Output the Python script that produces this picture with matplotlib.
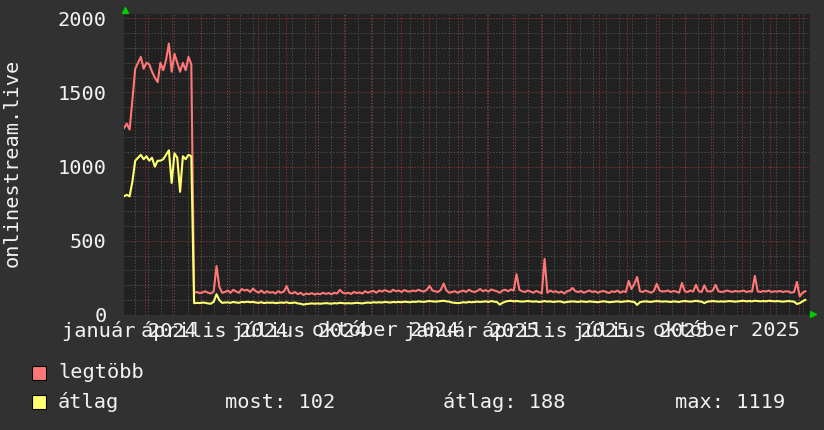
import matplotlib
matplotlib.use("Agg")
import matplotlib.dates as mdates
import matplotlib.pyplot as plt
import pandas as pd
from matplotlib.patches import Rectangle

W, H = 824, 430
DPI = 100
FONT = "DejaVu Sans Mono"
FS = 14.6

BG = "#313131"
CANVAS = "#212121"
TEXT = "#f2f2f2"
RED = "#ff7777"
YELLOW = "#ffff70"
GRID_MINOR = "#4e4e4e"
GRID_MAJOR = "#853232"
ARROW = "#00cc00"

# napi (3 naponkénti) értékek
legtobb = [
    1260, 1290, 1250, 1450, 1660, 1700, 1740, 1660, 1700, 1690,
    1640, 1600, 1570, 1700, 1650, 1720, 1830, 1640, 1760, 1700,
    1640, 1700, 1650, 1740, 1690, 150, 155, 148, 152, 160,
    150, 145, 160, 330, 190, 150, 155, 165, 150, 170,
    158, 150, 175, 165, 170, 155, 178, 160, 150, 165,
    148, 160, 150, 155, 145, 160, 150, 158, 195, 150,
    145, 155, 140, 150, 135, 145, 140, 148, 138, 145,
    140, 150, 142, 148, 140, 150, 145, 170, 150, 145,
    150, 142, 155, 148, 152, 145, 160, 150, 158, 162,
    150, 165, 158, 168, 160, 155, 170, 160, 165, 155,
    168, 160, 158, 165, 160, 170, 162, 158, 170, 196,
    165, 160, 155, 170, 212, 165, 150, 155, 160, 150,
    158, 165, 155, 170, 160, 155, 162, 175, 160, 168,
    158, 172, 165, 160, 150, 165, 170, 160, 172, 165,
    275, 170, 160, 155, 165, 158, 150, 162, 155, 145,
    378, 150, 165, 155, 160, 150, 158, 145, 160, 165,
    182, 160, 155, 162, 150, 158, 165, 155, 160, 150,
    158, 162, 155, 148, 160, 155, 165, 150, 160, 155,
    230, 175, 208, 257, 160, 155, 165, 158, 150, 162,
    210, 165, 158, 160, 165, 155, 162, 158, 150, 216,
    160, 155, 165, 158, 203, 160, 155, 200, 160, 158,
    165, 203, 160, 155, 158, 165, 160, 155, 162, 158,
    160, 165, 155, 160, 158, 264, 160, 155, 162, 158,
    165, 155, 160, 158, 162, 155, 160, 158, 150, 155,
    223, 125, 150, 160,
]
atlag = [
    800, 810, 800, 900, 1040, 1060, 1080, 1050, 1070, 1040,
    1060, 1000, 1040, 1040, 1050, 1080, 1110, 890, 1090, 1060,
    830, 1070, 1050, 1080, 1070, 80, 82, 80, 84, 82,
    78, 76, 90, 140, 100, 82, 84, 85, 82, 88,
    84, 82, 88, 86, 90, 86, 88, 84, 82, 86,
    80, 84, 82, 84, 80, 82, 84, 82, 86, 80,
    82, 84, 78, 76, 70, 74, 76, 78, 76, 78,
    76, 78, 80, 78, 76, 80, 78, 82, 80, 78,
    80, 78, 80, 82, 80, 78, 82, 84, 82, 86,
    84, 86, 84, 88, 86, 84, 88, 86, 88, 86,
    90, 88, 86, 90, 88, 92, 90, 88, 92, 94,
    92, 90, 92, 94, 96, 92, 90, 84, 82, 80,
    82, 86, 84, 88, 86, 88, 90, 88, 90, 92,
    88, 94, 90, 88, 70, 82, 90, 94, 96, 92,
    94, 92, 90, 92, 94, 92, 90, 92, 88, 90,
    94, 90, 92, 88, 90, 92, 90, 84, 88, 90,
    92, 90, 88, 92, 90, 88, 92, 90, 88, 86,
    90, 92, 90, 86, 88, 90, 92, 88, 90, 92,
    94, 90, 88, 68, 86, 90, 92, 90, 88, 92,
    94, 92, 90, 92, 90, 88, 92, 90, 88, 92,
    94, 92, 90, 92, 96, 92, 90, 80, 90, 92,
    94, 92, 90, 92, 90, 92, 94, 92, 90, 92,
    94, 96, 92, 94, 92, 96, 94, 92, 94, 92,
    96, 94, 92, 94, 92, 90, 92, 94, 92, 90,
    74, 80, 92, 102,
]
dates = pd.date_range("2024-01-10", periods=len(legtobb), freq="3D")

y_ticks = [0, 500, 1000, 1500, 2000]
x_labels = [
    "január 2024", "április 2024", "július 2024", "október 2024",
    "január 2025", "április 2025", "július 2025", "október 2025",
]
x_label_dates = [
    "2024-01-16", "2024-04-16", "2024-07-16", "2024-10-16",
    "2025-01-16", "2025-04-16", "2025-07-16", "2025-10-16",
]
legend_names = ["legtöbb", "átlag"]
legend_stats = ["most: 102", "átlag: 188", "max: 1119"]

x_start = pd.Timestamp("2024-01-10")
x_end = pd.Timestamp("2026-01-13")
y_top = 2029


def fx(x):
    return x / W


def fy(y):
    return 1 - y / H


fig = plt.figure(figsize=(W / DPI, H / DPI), dpi=DPI, facecolor=BG)
ax = fig.add_axes([fx(124), fy(315), 686 / W, 301 / H])
ax.set_facecolor(CANVAS)
for spine in ax.spines.values():
    spine.set_visible(False)

ax.set_xlim(mdates.date2num(x_start), mdates.date2num(x_end))
ax.set_ylim(0, y_top)

# rács
dots = (0, (1.3, 1.6))
minor_x = pd.date_range("2024-01-22", x_end, freq="14D")
major_x = pd.date_range("2024-02-01", x_end, freq="MS")
for d in minor_x:
    ax.axvline(mdates.date2num(d), color=GRID_MINOR, lw=0.75, ls=dots, zorder=1)
for v in range(100, 2001, 100):
    if v % 500:
        ax.axhline(v, color=GRID_MINOR, lw=0.75, ls=dots, zorder=1)
for d in major_x:
    ax.axvline(mdates.date2num(d), color=GRID_MAJOR, lw=0.75, ls=dots, zorder=2)
for v in y_ticks:
    ax.axhline(v, color=GRID_MAJOR, lw=0.75, ls=dots, zorder=2)

ax.plot(mdates.date2num(dates), legtobb, color=RED, lw=1.5, zorder=3)
ax.plot(mdates.date2num(dates), atlag, color=YELLOW, lw=1.5, zorder=4)

ax.set_yticks(y_ticks)
ax.set_yticklabels([str(v) for v in y_ticks])
ax.set_xticks(mdates.date2num(pd.to_datetime(x_label_dates)))
ax.set_xticklabels(x_labels)
ax.tick_params(axis="both", length=0, colors=TEXT, labelsize=FS)
ax.tick_params(axis="y", pad=12.5)
ax.tick_params(axis="x", pad=4)
for lab in ax.get_xticklabels() + ax.get_yticklabels():
    lab.set_fontfamily(FONT)

# nyilak
ax.plot([0.0015], [1 + 4.5 / 301], marker="^", ms=5, color=ARROW,
        transform=ax.transAxes, clip_on=False, zorder=5)
ax.plot([1 + 3 / 686], [0.002], marker=">", ms=5, color=ARROW,
        transform=ax.transAxes, clip_on=False, zorder=5)

fig.text(fx(12), fy(163), "onlinestream.live", rotation=90, ha="center",
         va="center", color=TEXT, fontsize=FS, family=FONT)

# jelmagyarázat
for color, name, y in ((RED, legend_names[0], 373), (YELLOW, legend_names[1], 402)):
    fig.add_artist(Rectangle((fx(32), fy(y + 7)), 14 / W, 14 / H, facecolor=color,
                             edgecolor="black", lw=0.8, transform=fig.transFigure))
    fig.text(fx(58), fy(y), name, ha="left", va="center", color=TEXT,
             fontsize=FS, family=FONT)
for text, x in zip(legend_stats, (225, 443, 675)):
    fig.text(fx(x), fy(402), text, ha="left", va="center", color=TEXT,
             fontsize=FS, family=FONT)

fig.savefig("out.png", dpi=DPI, facecolor=BG)
